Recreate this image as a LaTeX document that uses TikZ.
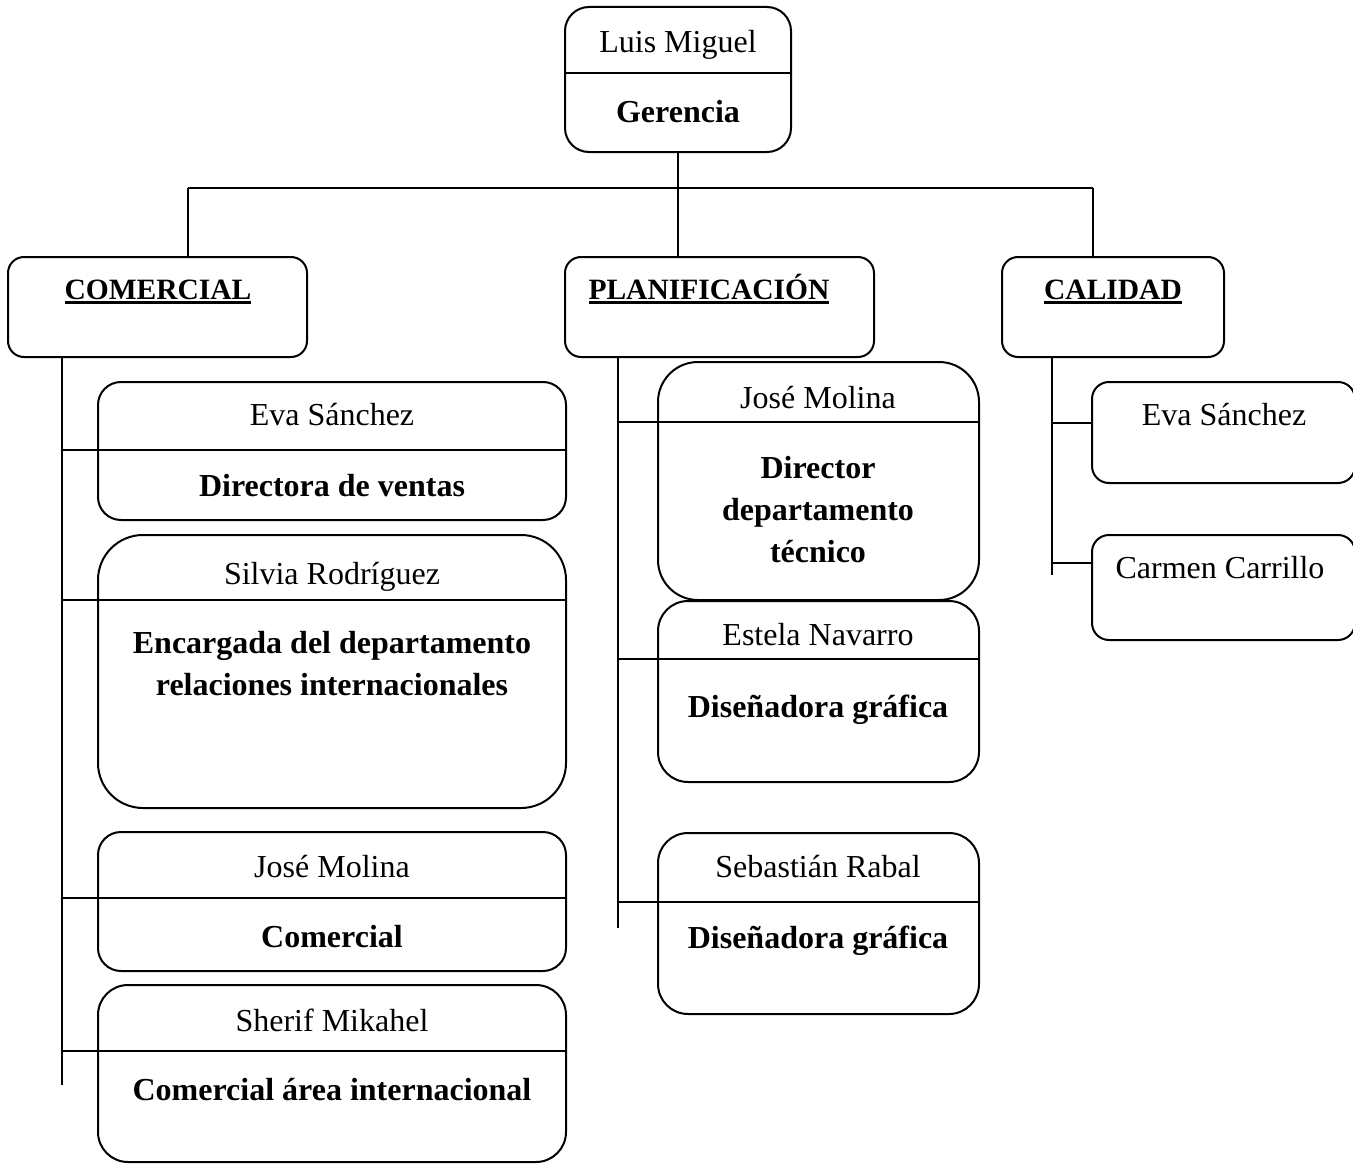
\documentclass[tikz,border=0pt]{standalone}
\usepackage{fontspec}
\setmainfont{Liberation Serif}
\newcommand\myul[1]{\setbox0\hbox{#1}\leavevmode\rlap{\rule[-4.5pt]{\wd0}{2.4pt}}\box0}
\begin{document}
\begin{tikzpicture}[x=1pt,y=-1pt, line width=2pt,
  box/.style={draw, rounded corners=#1, inner sep=0pt, outer sep=0pt, anchor=north west},
  nm/.style={font=\fontsize{32}{42}\selectfont, anchor=base, inner sep=0pt},
  rl/.style={font=\fontsize{32}{42}\selectfont\bfseries, anchor=base, inner sep=0pt, align=center},
  dep/.style={font=\fontsize{29.5}{36}\selectfont\bfseries, anchor=base, inner sep=0pt},
]
\useasboundingbox (0,0) rectangle (1353,1164);
\clip (0,0) rectangle (1353,1164);

% top box
\node[box=24pt, minimum width=226pt, minimum height=145pt] (ger) at (565,7) {};
\coordinate (dg) at (0,73);
\draw (ger.west |- dg) -- (ger.east |- dg);
\node[nm] (gername) at (678,53) {Luis Miguel};
\node[rl] (gerrole) at (678,122) {Gerencia};

% departments
\node[box=16pt, minimum width=299pt, minimum height=100pt] (com) at (8,257) {};
\node[box=16pt, minimum width=309pt, minimum height=100pt] (pla) at (565,257) {};
\node[box=16pt, minimum width=222pt, minimum height=100pt] (cal) at (1002,257) {};
\node[dep] (comt) at (158,299) {\myul{COMERCIAL}};
\node[dep] (plat) at (709,299) {\myul{PLANIFICACIÓN}};
\node[dep] (calt) at (1113,299) {\myul{CALIDAD}};

% bus
\coordinate (busL) at (188,188);
\coordinate (busR) at (1093,188);
\draw (busL) -- (busR);
\draw (ger.south) -- (ger.south |- pla.north);
\draw (busL) -- (busL |- com.north);
\draw (busR) -- (busR |- cal.north);

% trunks
\coordinate (comT) at (62,1085);
\coordinate (plaT) at (618,928);
\coordinate (calT) at (1052,575);
\draw (comT |- com.south) -- (comT);
\draw (plaT |- pla.south) -- (plaT);
\draw (calT |- cal.south) -- (calT);

% comercial children
\node[box=23pt, minimum width=468pt, minimum height=138pt] (eva1) at (98,382) {};
\node[box=45pt, minimum width=468pt, minimum height=273pt] (sil) at (98,535) {};
\node[box=23pt, minimum width=468pt, minimum height=139pt] (jos1) at (98,832) {};
\node[box=30pt, minimum width=468pt, minimum height=177pt] (she) at (98,985) {};
\coordinate (d1) at (0,450);
\coordinate (d2) at (0,600);
\coordinate (d3) at (0,898);
\coordinate (d4) at (0,1051);
\draw (comT |- d1) -- (eva1.east |- d1);
\draw (comT |- d2) -- (sil.east |- d2);
\draw (comT |- d3) -- (jos1.east |- d3);
\draw (comT |- d4) -- (she.east |- d4);
\node[nm] (eva1n) at (332,425) {Eva Sánchez};
\node[rl] (eva1r) at (332,496) {Directora de ventas};
\node[nm] (siln) at (332,584) {Silvia Rodríguez};
\node[rl] (silr1) at (332,653) {Encargada del departamento};
\node[rl] (silr2) at (332,695) {relaciones internacionales};
\node[nm] (jos1n) at (332,877) {José Molina};
\node[rl] (jos1r) at (332,947) {Comercial};
\node[nm] (shen) at (332,1031) {Sherif Mikahel};
\node[rl] (sher) at (332,1100) {Comercial área internacional};

% planificacion children
\node[box=40pt, minimum width=321pt, minimum height=238pt] (jos2) at (658,362) {};
\node[box=30pt, minimum width=321pt, minimum height=181pt] (est) at (658,601) {};
\node[box=30pt, minimum width=321pt, minimum height=181pt] (seb) at (658,833) {};
\coordinate (p1) at (0,422);
\coordinate (p2) at (0,659);
\coordinate (p3) at (0,902);
\draw (plaT |- p1) -- (jos2.east |- p1);
\draw (plaT |- p2) -- (est.east |- p2);
\draw (plaT |- p3) -- (seb.east |- p3);
\node[nm] (jos2n) at (818,408) {José Molina};
\node[rl] (jos2r1) at (818,478) {Director};
\node[rl] (jos2r2) at (818,520) {departamento};
\node[rl] (jos2r3) at (818,562) {técnico};
\node[nm] (estn) at (818,645) {Estela Navarro};
\node[rl] (estr) at (818,717) {Diseñadora gráfica};
\node[nm] (sebn) at (818,877) {Sebastián Rabal};
\node[rl] (sebr) at (818,948) {Diseñadora gráfica};

% calidad children
\node[box=17pt, minimum width=263pt, minimum height=101pt] (eva2) at (1092,382) {};
\node[box=17pt, minimum width=263pt, minimum height=105pt] (car) at (1092,535) {};
\coordinate (c1) at (0,423);
\coordinate (c2) at (0,563);
\draw (calT |- c1) -- (eva2.west |- c1);
\draw (calT |- c2) -- (car.west |- c2);
\node[nm] (eva2n) at (1224,425) {Eva Sánchez};
\node[nm] (carn) at (1220,578) {Carmen Carrillo};
\end{tikzpicture}
\end{document}
